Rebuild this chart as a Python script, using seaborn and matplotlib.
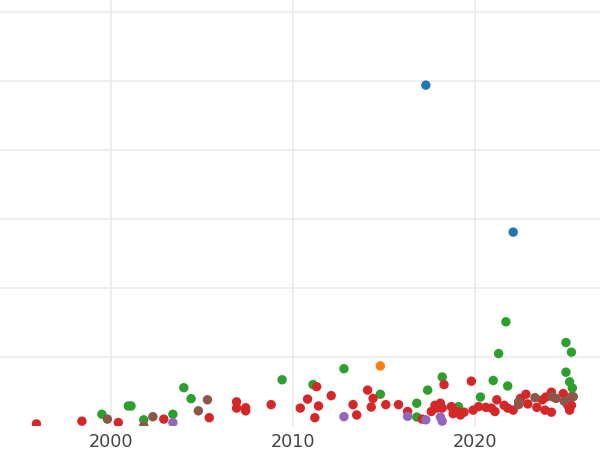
import matplotlib
matplotlib.use("Agg")
import matplotlib.pyplot as plt
import numpy as np
import pandas as pd
import seaborn as sns

# series values (year, value)
blue_year = [2017.3, 2022.1]
blue_val = [49.4, 28.1]

orange_year = [2014.8]
orange_val = [8.7]

green_year = [1999.5, 2000.95, 2001.1, 2001.8, 2003.4, 2004.0, 2004.4, 2009.4,
              2011.1, 2012.8, 2014.8, 2016.8, 2016.8, 2017.4, 2018.2, 2019.1,
              2020.3, 2021.0, 2021.3, 2021.7, 2021.8, 2025.0, 2025.3, 2025.0,
              2025.2, 2025.35]
green_val = [1.7, 2.9, 2.9, 0.9, 1.7, 5.55, 3.96, 6.7,
             6.0, 8.3, 4.6, 3.3, 1.3, 5.2, 7.1, 2.8,
             4.2, 6.6, 10.5, 15.1, 5.8, 12.1, 10.7, 7.8,
             6.4, 5.5]

red_year = [1995.9, 1998.4, 2000.4, 2002.9, 2005.4, 2006.9, 2006.9, 2007.4,
            2007.4, 2008.8, 2010.4, 2010.8, 2011.2, 2011.3, 2011.4, 2012.1,
            2013.3, 2013.5, 2014.1, 2014.4, 2014.3, 2015.1, 2015.8, 2016.3,
            2017.1, 2018.3, 2017.8, 2018.1, 2017.6, 2017.9, 2018.2, 2018.7,
            2018.8, 2019.0, 2019.4, 2019.2, 2019.8, 2019.9, 2020.2, 2020.6,
            2020.9, 2021.1, 2021.2, 2021.6, 2021.8, 2022.1, 2022.5, 2022.8,
            2022.9, 2023.4, 2023.7, 2023.85, 2024.2, 2023.9, 2024.2, 2024.85,
            2025.1, 2025.2, 2025.3]
red_val = [0.3, 0.7, 0.5, 1.0, 1.2, 3.5, 2.6, 2.65,
           2.2, 3.1, 2.6, 3.9, 1.2, 5.7, 2.9, 4.4,
           3.1, 1.6, 5.2, 4.0, 2.75, 3.1, 3.1, 2.1,
           1.0, 6.0, 3.0, 3.3, 2.1, 2.6, 2.6, 2.8,
           1.8, 2.1, 2.0, 1.6, 6.5, 2.3, 2.8, 2.7,
           2.6, 2.1, 3.8, 3.0, 2.6, 2.3, 4.0, 4.6,
           3.2, 2.7, 3.8, 2.3, 2.0, 4.2, 4.9, 4.7,
           3.0, 2.3, 3.0]

purple_year = [2003.4, 2012.8, 2016.3, 2017.3, 2018.1, 2018.2]
purple_val = [0.5, 1.35, 1.4, 0.9, 1.3, 0.7]

brown_year = [1999.8, 2001.8, 2002.3, 2004.8, 2005.3, 2022.4, 2022.4, 2023.3,
              2024.25, 2024.45, 2024.9, 2025.3, 2025.4]
brown_val = [1.0, 0.0, 1.35, 2.2, 3.8, 3.5, 3.1, 4.1,
             4.25, 4.0, 3.6, 4.25, 4.25]

groups = ["A", "B", "C", "D", "E", "F"]
x_ticks = [2000, 2010, 2020]


def build_df():
    parts = [
        ("A", blue_year, blue_val),
        ("B", orange_year, orange_val),
        ("C", green_year, green_val),
        ("D", red_year, red_val),
        ("E", purple_year, purple_val),
        ("F", brown_year, brown_val),
    ]
    rows = []
    for name, xs, ys in parts:
        for x, y in zip(xs, ys):
            rows.append({"year": x, "value": y, "group": name})
    return pd.DataFrame(rows)


df = build_df()

sns.set_style("whitegrid", {"grid.color": "#ebebeb"})

fig = plt.figure(figsize=(6, 4.5), dpi=100)
ax = fig.add_axes([0, 24 / 450, 1, 426 / 450])

sns.scatterplot(
    data=df,
    x="year",
    y="value",
    hue="group",
    hue_order=groups,
    palette=sns.color_palette("tab10", 6),
    s=46,
    linewidth=0,
    legend=False,
    ax=ax,
)

ax.set_xlim(1993.9, 2026.87)
ax.set_ylim(0.0, 61.74)
ax.set_xticks(x_ticks)
ax.set_xticklabels([str(t) for t in x_ticks])
ax.set_yticks(np.arange(10, 61, 10))
ax.set_yticklabels([])
ax.tick_params(axis="x", labelsize=12.7, colors="#444444", pad=5, length=0)
ax.tick_params(axis="y", length=0)
ax.grid(True, linewidth=1.2)
ax.set_xlabel("")
ax.set_ylabel("")
for s in ax.spines.values():
    s.set_visible(False)

fig.savefig("out.png", dpi=100)
